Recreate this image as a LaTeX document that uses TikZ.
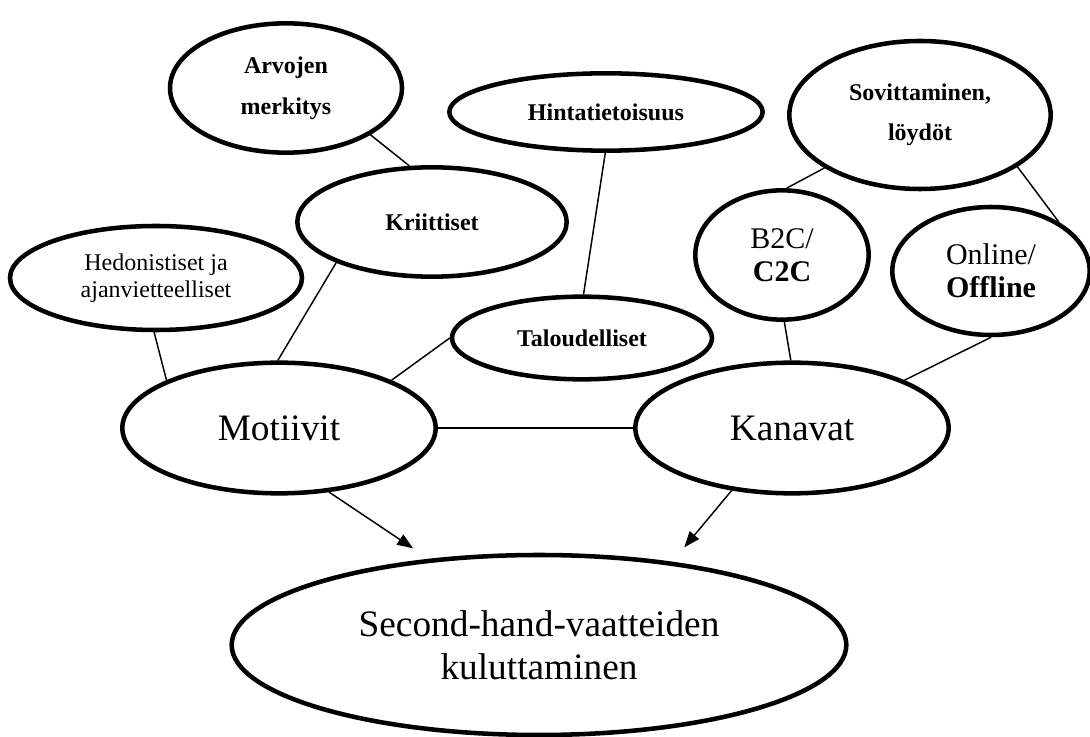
\documentclass[tikz,border=0pt]{standalone}
\usepackage{fontspec}
\setmainfont{Liberation Serif}
\usepackage{tikz}
\usetikzlibrary{shapes.geometric,arrows.meta}

\begin{document}
\begin{tikzpicture}[x=0.75pt,y=-0.75pt,
    bubble/.style={draw,ellipse,line width=3.4pt,inner sep=0pt,align=center},
    boldlabel/.style={font=\bfseries\fontsize{18}{31}\selectfont},
    smalllabel/.style={font=\fontsize{22.5}{25}\selectfont},
    biglabel/.style={font=\fontsize{28}{32}\selectfont},
    link/.style={line width=1.1pt},
    pointer/.style={line width=1.1pt,-{Triangle[length=12pt,width=9pt]}}]
    \useasboundingbox (0,0) rectangle (1090,737);

    % top row
    \node[bubble,boldlabel,minimum width=174pt,minimum height=97pt] (arvo) at (286,88) {Arvojen\\merkitys};
    \node[bubble,boldlabel,minimum width=235pt,minimum height=58pt] (hinta) at (606,112) {Hintatietoisuus};
    \node[bubble,boldlabel,font=\bfseries\fontsize{18}{30}\selectfont,minimum width=196pt,minimum height=111pt] (sovi) at (920,115) {Sovittaminen,\\l\"oyd\"ot};

    % middle row
    \node[bubble,boldlabel,minimum width=202pt,minimum height=82pt] (krit) at (432,222) {Kriittiset};
    \node[bubble,font=\fontsize{18}{20}\selectfont,minimum width=219pt,minimum height=78pt] (hedo) at (156,278) {Hedonistiset ja\\ajanvietteelliset};
    \node[bubble,boldlabel,minimum width=195pt,minimum height=62pt] (talo) at (582,338) {Taloudelliset};
    \node[bubble,smalllabel,minimum width=130pt,minimum height=97pt] (b2c) at (782,255) {B2C/\\\textbf{C2C}};
    \node[bubble,smalllabel,minimum width=148pt,minimum height=96pt] (online) at (991,271) {Online/\\\textbf{Offline}};

    % main nodes
    \node[bubble,biglabel,minimum width=235pt,minimum height=98pt] (mot) at (279,428) {Motiivit};
    \node[bubble,biglabel,minimum width=235pt,minimum height=98pt] (kan) at (792,428) {Kanavat};
    \node[bubble,biglabel,minimum width=461pt,minimum height=135pt] (second) at (539,645) {Second-hand-vaatteiden\\kuluttaminen};

    % connectors
    \draw[link] (arvo.-29) -- (krit.112);
    \draw[link] (krit.-157) -- (mot.91);
    \draw[link] (hedo.-92) -- (mot.157);
    \draw[link] (talo.180) -- (mot.23);
    \draw[link] (hinta.-91) -- (talo.88);
    \draw[link] (sovi.-151) -- (b2c.86);
    \draw[link] (sovi.-28) -- (online.36);
    \draw[link] (b2c.-88) -- (kan.91);
    \draw[link] (online.-90) -- (kan.23);
    \draw[link] (mot) -- (kan);
    \draw[pointer,shorten >=14pt] (mot.-52) -- (second.142);
    \draw[pointer,shorten >=14pt] (kan.-134) -- (second.32);
\end{tikzpicture}
\end{document}
